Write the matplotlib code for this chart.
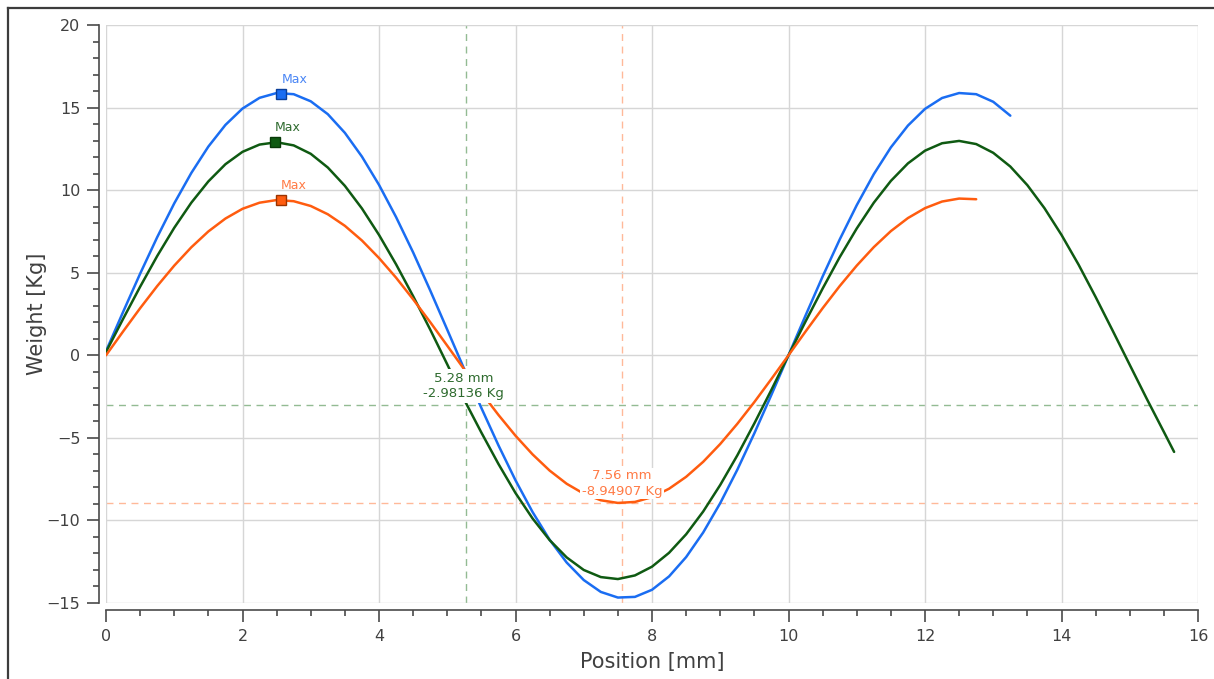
import matplotlib
matplotlib.use('Agg')
import matplotlib.pyplot as plt
from matplotlib.lines import Line2D
from matplotlib.ticker import MultipleLocator

x_blue = [0, 0.25, 0.5, 0.75, 1, 1.25, 1.5, 1.75, 2, 2.25,
          2.5, 2.75, 3, 3.25, 3.5, 3.75, 4, 4.25, 4.5, 4.75,
          5, 5.25, 5.5, 5.75, 6, 6.25, 6.5, 6.75, 7, 7.25,
          7.5, 7.75, 8, 8.25, 8.5, 8.75, 9, 9.25, 9.5, 9.75,
          10, 10.25, 10.5, 10.75, 11, 11.25, 11.5, 11.75, 12, 12.25,
          12.5, 12.75, 13, 13.25]
y_blue = [0.25, 2.62, 4.94, 7.15, 9.20, 11.04, 12.64, 13.95, 14.94, 15.59,
          15.88, 15.81, 15.38, 14.60, 13.47, 12.03, 10.32, 8.37, 6.23, 3.93,
          1.55, -0.85, -3.19, -5.45, -7.57, -9.49, -11.17, -12.55, -13.61, -14.33,
          -14.67, -14.63, -14.20, -13.39, -12.22, -10.73, -8.95, -6.93, -4.72, -2.39,
          0.0, 2.41, 4.77, 7.01, 9.09, 10.97, 12.59, 13.91, 14.92, 15.58,
          15.88, 15.81, 15.35, 14.51]

x_green = [0, 0.25, 0.5, 0.75, 1, 1.25, 1.5, 1.75, 2, 2.25,
           2.5, 2.75, 3, 3.25, 3.5, 3.75, 4, 4.25, 4.5, 4.75,
           5, 5.25, 5.5, 5.75, 6, 6.25, 6.5, 6.75, 7, 7.25,
           7.5, 7.75, 8, 8.25, 8.5, 8.75, 9, 9.25, 9.5, 9.75,
           10, 10.25, 10.5, 10.75, 11, 11.25, 11.5, 11.75, 12, 12.25,
           12.5, 12.75, 13, 13.25, 13.5, 13.75, 14, 14.25, 14.5, 14.75,
           15, 15.25, 15.5, 15.65]
y_green = [0.2, 2.20, 4.15, 6.01, 7.72, 9.24, 10.53, 11.57, 12.32, 12.76,
           12.90, 12.71, 12.20, 11.37, 10.26, 8.89, 7.29, 5.51, 3.58, 1.56,
           -0.55, -2.70, -4.68, -6.58, -8.34, -9.88, -11.19, -12.24, -13.00, -13.43,
           -13.55, -13.33, -12.80, -11.96, -10.84, -9.46, -7.85, -6.06, -4.12, -2.09,
           0.0, 2.05, 4.04, 5.94, 7.68, 9.24, 10.56, 11.62, 12.39, 12.84,
           12.98, 12.79, 12.26, 11.43, 10.30, 8.91, 7.29, 5.49, 3.53, 1.49,
           -0.58, -2.64, -4.64, -5.85]

x_orange = [0, 0.25, 0.5, 0.75, 1, 1.25, 1.5, 1.75, 2, 2.25,
            2.5, 2.75, 3, 3.25, 3.5, 3.75, 4, 4.25, 4.5, 4.75,
            5, 5.25, 5.5, 5.75, 6, 6.25, 6.5, 6.75, 7, 7.25,
            7.5, 7.75, 8, 8.25, 8.5, 8.75, 9, 9.25, 9.5, 9.75,
            10, 10.25, 10.5, 10.75, 11, 11.25, 11.5, 11.75, 12, 12.25,
            12.5, 12.75]
y_orange = [0.0, 1.44, 2.85, 4.19, 5.43, 6.54, 7.50, 8.28, 8.87, 9.24,
            9.40, 9.33, 9.04, 8.54, 7.84, 6.95, 5.89, 4.70, 3.39, 2.01,
            0.58, -0.86, -2.26, -3.61, -4.87, -6.00, -6.98, -7.78, -8.38, -8.78,
            -8.94, -8.88, -8.59, -8.08, -7.36, -6.45, -5.37, -4.15, -2.83, -1.43,
            0.0, 1.44, 2.85, 4.19, 5.43, 6.55, 7.52, 8.31, 8.91, 9.31,
            9.49, 9.45]

# max markers
max_blue = (2.57, 15.82)
max_green = (2.47, 12.92)
max_orange = (2.56, 9.40)

# cursors
cur_green = (5.28, -2.98136)
cur_orange = (7.56, -8.94907)

c_blue, c_green, c_orange = '#1a6df2', '#0f5a12', '#ff5c0f'
txt = '#404040'

fig = plt.figure(figsize=(12.14, 6.79), dpi=100)
ax = fig.add_axes([106 / 1214, 1 - 603 / 679, 1092 / 1214, 578 / 679])

# frame of the window
fig.add_artist(Line2D([8 / 1214, 8 / 1214], [0, 1 - 8 / 679], transform=fig.transFigure,
                      color='#3c3c3c', lw=1.6))
fig.add_artist(Line2D([8 / 1214, 1], [1 - 8 / 679, 1 - 8 / 679], transform=fig.transFigure,
                      color='#3c3c3c', lw=1.6))

# cursor lines
ax.axhline(cur_green[1], color='#93bb93', lw=1, ls=(0, (5, 4)), zorder=1)
ax.axvline(cur_green[0], color='#93bb93', lw=1, ls=(0, (5, 4)), zorder=1)
ax.axhline(cur_orange[1], color='#ffb999', lw=1, ls=(0, (5, 4)), zorder=1)
ax.axvline(cur_orange[0], color='#ffb999', lw=1, ls=(0, (5, 4)), zorder=1)

for xs, ys, col in [(x_blue, y_blue, c_blue), (x_green, y_green, c_green),
                    (x_orange, y_orange, c_orange)]:
    ax.plot(xs, ys, color=col, lw=1.8, zorder=3,
            solid_joinstyle='round', solid_capstyle='round')

for pt, col, edge, tcol in [(max_blue, c_blue, '#0b3f99', '#4a86f5'),
                            (max_green, c_green, '#083a08', '#2f6b2f'),
                            (max_orange, c_orange, '#9a3300', '#ff7a45')]:
    ax.plot(*pt, marker='s', ms=7.5, mfc=col, mec=edge, mew=1, zorder=5)
    ax.annotate('Max', pt, xytext=(0, 6), textcoords='offset points',
                ha='left', va='bottom', fontsize=9, color=tcol, zorder=6)

# cursor labels with white background
ax.annotate('5.28 mm\n-2.98136 Kg', cur_green, xytext=(-2, 3), textcoords='offset points',
            ha='center', va='bottom', fontsize=9.5, color='#2e6b2e', linespacing=1.25,
            bbox=dict(facecolor='white', edgecolor='none', pad=2), zorder=6)
ax.annotate('7.56 mm\n-8.94907 Kg', cur_orange, xytext=(0, 4), textcoords='offset points',
            ha='center', va='bottom', fontsize=9.5, color='#ff7a45', linespacing=1.25,
            bbox=dict(facecolor='white', edgecolor='none', pad=1.0), zorder=6)

ax.set_xlim(0, 16)
ax.set_ylim(-15, 20)
ax.xaxis.set_major_locator(MultipleLocator(2))
ax.xaxis.set_minor_locator(MultipleLocator(0.5))
ax.yaxis.set_major_locator(MultipleLocator(5))
ax.yaxis.set_minor_locator(MultipleLocator(1))
ax.grid(True, which='major', color='#d6d6d6', lw=1, zorder=0)

for s in ['top', 'right']:
    ax.spines[s].set_visible(False)
for s in ['left', 'bottom']:
    ax.spines[s].set_position(('outward', 5))
    ax.spines[s].set_color('#4a4a4a')
    ax.spines[s].set_linewidth(1.2)
ax.spines['left'].set_bounds(-15, 20)
ax.spines['bottom'].set_bounds(0, 16)

ax.tick_params(which='major', length=8.5, width=1.2, color='#4a4a4a',
               labelsize=11.5, labelcolor=txt, pad=5)
ax.tick_params(which='minor', length=4.5, width=1.2, color='#4a4a4a')

ax.set_xlabel('Position [mm]', fontsize=15, color=txt, labelpad=6)
ax.set_ylabel('Weight [Kg]', fontsize=15, color=txt, labelpad=0)

plt.savefig('out.png', dpi=100)
